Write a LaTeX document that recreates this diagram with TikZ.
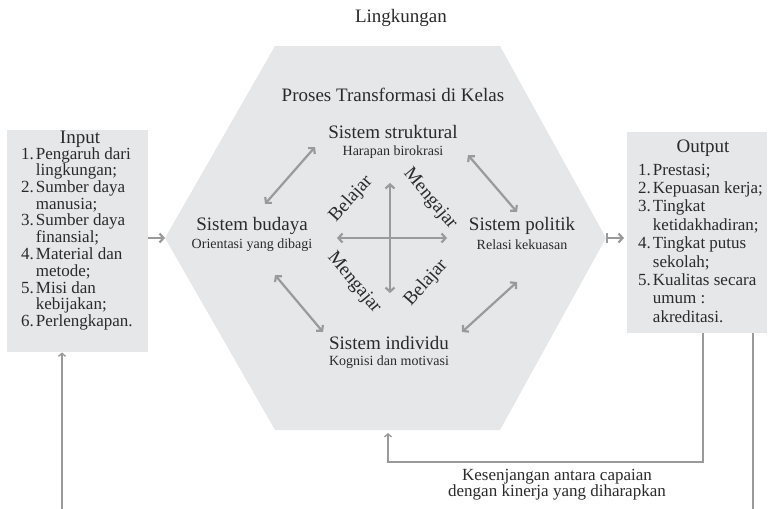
\documentclass[tikz,border=0pt]{standalone}
\usepackage{fontspec}
\setmainfont{Liberation Serif}
\usetikzlibrary{arrows.meta}
\definecolor{boxgray}{HTML}{E6E7E8}
\definecolor{arrgray}{HTML}{9A9A9A}
\definecolor{txt}{HTML}{2A2A2A}
\begin{document}
\begin{tikzpicture}[x=1pt,y=-1pt,
  every node/.style={text=txt, inner sep=0pt},
  big/.style={font=\fontsize{19}{21}\selectfont},
  sub/.style={font=\fontsize{14}{16}\selectfont},
  fbtext/.style={font=\fontsize{17}{16}\selectfont, align=center},
  dbl/.style={draw=arrgray, line width=2.2pt, {Straight Barb[length=4pt,width=9pt]}-{Straight Barb[length=4pt,width=9pt]}},
  sgl/.style={draw=arrgray, line width=2.2pt, -{Straight Barb[length=4pt,width=9pt]}},
  fb/.style={draw=arrgray, line width=1.4pt},
  boxfill/.style={fill=boxgray, anchor=north west}]
\useasboundingbox (0,0) rectangle (769,509);
% hexagon
\fill[boxgray] (275,46) -- (500,46) -- (606,238) -- (500,430) -- (275,430) -- (165,238) -- cycle;
\coordinate (hexL) at (165,238);
\coordinate (hexR) at (606,238);
\coordinate (hexB) at (388,430);
% boxes
\node[boxfill, minimum width=141pt, minimum height=222pt] (inbox) at (7,130) {};
\node[boxfill, minimum width=140pt, minimum height=201pt] (outbox) at (627,132) {};
% texts
\node[big] (ling) at (401,18) {Lingkungan};
\node[big] (proses) at (393,95) {Proses Transformasi di Kelas};
\node[big] (struk) at (393,132) {Sistem struktural};
\node[sub] (strukS) at (393,152) {Harapan birokrasi};
\node[big] (bud) at (252,226) {Sistem budaya};
\node[sub] (budS) at (252,245) {Orientasi yang dibagi};
\node[big] (pol) at (522,226) {Sistem politik};
\node[sub] (polS) at (522,245) {Relasi kekuasan};
\node[big] (ind) at (389,343) {Sistem individu};
\node[sub] (indS) at (389,362) {Kognisi dan motivasi};
\node[big, rotate=48] (bel1) at (351,199) {Belajar};
\node[big, rotate=-50] (men1) at (430,199) {Mengajar};
\node[big, rotate=-50] (men2) at (354,283) {Mengajar};
\node[big, rotate=48] (bel2) at (426,283) {Belajar};
\node[big] (inT) at (80,139) {Input};
\node[big] (outT) at (703,148) {Output};
\node[anchor=base west, font=\fontsize{17}{16.6}\selectfont] (inList) at (21,159) {%
  \begin{tabular}[t]{@{}l@{\hspace{2pt}}l@{}}
  1. & Pengaruh dari\\
     & lingkungan;\\
  2. & Sumber daya\\
     & manusia;\\
  3. & Sumber daya\\
     & finansial;\\
  4. & Material dan\\
     & metode;\\
  5. & Misi dan\\
     & kebijakan;\\
  6. & Perlengkapan.
  \end{tabular}};
\node[anchor=base west, font=\fontsize{17}{18.4}\selectfont] (outList) at (638,175) {%
  \begin{tabular}[t]{@{}l@{\hspace{2pt}}l@{}}
  1. & Prestasi;\\
  2. & Kepuasan kerja;\\
  3. & Tingkat\\
     & ketidakhadiran;\\
  4. & Tingkat putus\\
     & sekolah;\\
  5. & Kualitas secara\\
     & umum :\\
     & akreditasi.
  \end{tabular}};
\node[fbtext] (gap) at (557,485) {Kesenjangan antara capaian\\ dengan kinerja yang diharapkan};
% inner arrows
\coordinate (a1) at (315,147); \coordinate (a2) at (265,204);
\coordinate (b1) at (468,155); \coordinate (b2) at (517,212);
\coordinate (c1) at (275,275); \coordinate (c2) at (323,332);
\coordinate (d1) at (517,282); \coordinate (d2) at (462,332);
\coordinate (h1) at (337,238); \coordinate (h2) at (447,238);
\coordinate (v1) at (390,183); \coordinate (v2) at (390,293);
\draw[dbl] (a1) -- (a2);
\draw[dbl] (b1) -- (b2);
\draw[dbl] (c1) -- (c2);
\draw[dbl] (d1) -- (d2);
\draw[dbl] (h1) -- (h2);
\draw[dbl] (v1) -- (v2);
% input / output arrows
\draw[sgl] (inbox.east |- hexL) -- (hexL);
\draw[draw=arrgray, line width=2.2pt, {Bar[width=10pt]}-{Straight Barb[length=4pt,width=9pt]}, shorten >=3pt] (hexR) -- (outbox.west |- hexR);
% feedback
\coordinate (o1) at (703,333);
\coordinate (fbT) at (388,462);
\draw[fb, -{Straight Barb[length=3pt,width=7pt]}, shorten >=3pt] (o1) |- (fbT) -- (hexB);
\coordinate (o2) at (753,333);
\coordinate (o2b) at (753,509);
\draw[fb] (o2) -- (o2b);
\coordinate (i1) at (62,509);
\draw[fb, -{Straight Barb[length=3pt,width=7pt]}] (i1) -- (inbox.south -| i1);
\end{tikzpicture}
\end{document}
